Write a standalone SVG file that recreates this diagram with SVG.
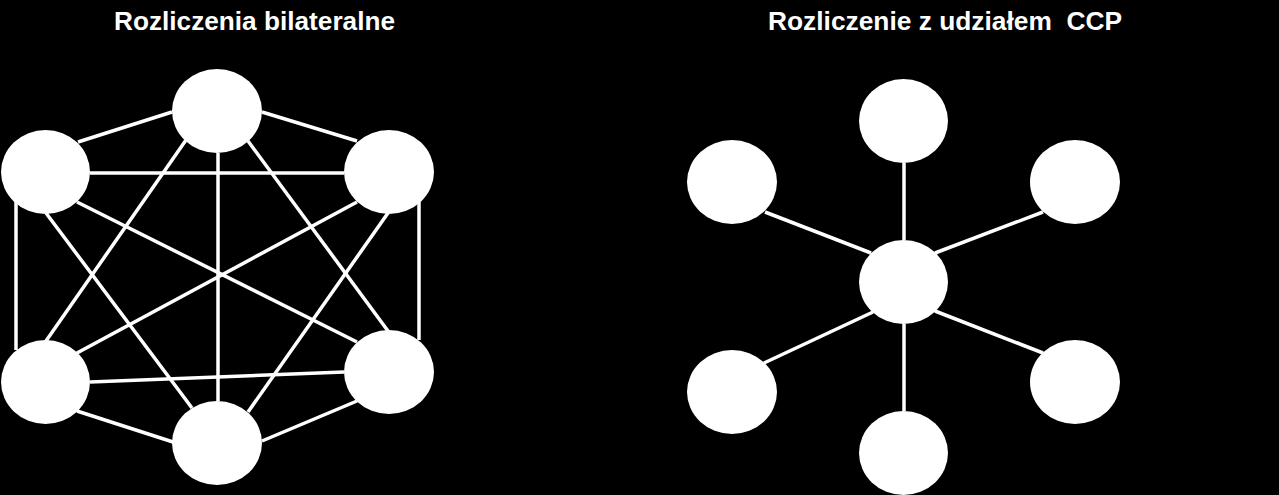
<svg xmlns="http://www.w3.org/2000/svg" width="1279" height="495" viewBox="0 0 1279 495">
<style>
.bg{fill:#000}
.n{fill:#fff}
.e{stroke:#fff;stroke-width:3.5;fill:none}
.t{fill:#fff;font-family:"Liberation Sans",Arial,sans-serif;font-weight:bold;font-size:25px}
</style>
<rect class="bg" x="0" y="0" width="1279" height="495"/>
<text class="t" x="114" y="30" textLength="281" lengthAdjust="spacingAndGlyphs">Rozliczenia bilateralne</text>
<text class="t" x="768" y="30" textLength="354" lengthAdjust="spacingAndGlyphs" xml:space="preserve">Rozliczenie z udziałem  CCP</text>
<g id="connectors">
<line class="e" x1="172" y1="112" x2="78" y2="142"/>
<line class="e" x1="262" y1="112" x2="357" y2="141"/>
<line class="e" x1="90" y1="173" x2="344" y2="173"/>
<line class="e" x1="186" y1="140" x2="46" y2="341"/>
<line class="e" x1="218" y1="153" x2="218" y2="401"/>
<line class="e" x1="248" y1="141" x2="388" y2="331"/>
<line class="e" x1="77" y1="202" x2="357" y2="342"/>
<line class="e" x1="46" y1="213" x2="192" y2="408"/>
<line class="e" x1="16" y1="202" x2="16" y2="350"/>
<line class="e" x1="357" y1="202" x2="77" y2="353"/>
<line class="e" x1="388" y1="213" x2="248" y2="412"/>
<line class="e" x1="419" y1="202" x2="419" y2="340"/>
<line class="e" x1="90" y1="382" x2="344" y2="372"/>
<line class="e" x1="77" y1="411" x2="173" y2="442"/>
<line class="e" x1="357" y1="401" x2="262" y2="441"/>
<line class="e" x1="904" y1="163" x2="904" y2="240"/>
<line class="e" x1="765" y1="212" x2="871" y2="253"/>
<line class="e" x1="1043" y1="212" x2="935" y2="253"/>
<line class="e" x1="764" y1="363" x2="873" y2="312"/>
<line class="e" x1="1043" y1="353" x2="935" y2="311"/>
<line class="e" x1="904" y1="324" x2="904" y2="411"/>
</g>
<g id="b-top"><ellipse class="n" cx="217" cy="111" rx="45" ry="42"/></g>
<g id="b-ul"><ellipse class="n" cx="45.5" cy="172" rx="44.5" ry="42"/></g>
<g id="b-ur"><ellipse class="n" cx="389" cy="172" rx="45" ry="42"/></g>
<g id="b-ll"><ellipse class="n" cx="45.5" cy="382" rx="44.5" ry="42"/></g>
<g id="b-lr"><ellipse class="n" cx="389" cy="372" rx="45" ry="42"/></g>
<g id="b-bottom"><ellipse class="n" cx="217" cy="443" rx="45" ry="42"/></g>
<g id="c-top"><ellipse class="n" cx="903.5" cy="121" rx="44.5" ry="42"/></g>
<g id="c-ul"><ellipse class="n" cx="732" cy="182" rx="45" ry="42"/></g>
<g id="c-ur"><ellipse class="n" cx="1075" cy="182" rx="45" ry="42"/></g>
<g id="c-center"><ellipse class="n" cx="903.5" cy="282" rx="44.5" ry="42"/></g>
<g id="c-ll"><ellipse class="n" cx="732" cy="392" rx="45" ry="42"/></g>
<g id="c-lr"><ellipse class="n" cx="1075" cy="382" rx="45" ry="42"/></g>
<g id="c-bottom"><ellipse class="n" cx="903.5" cy="453" rx="44.5" ry="42"/></g>
</svg>
